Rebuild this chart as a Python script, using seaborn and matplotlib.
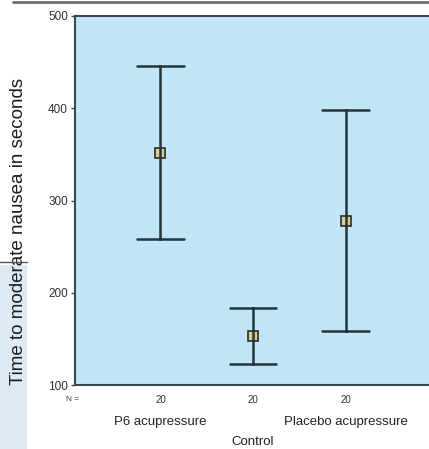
import matplotlib
matplotlib.use("Agg")
import matplotlib.pyplot as plt
from matplotlib.lines import Line2D
from matplotlib.patches import Rectangle
import seaborn as sns
import pandas as pd

groups = ["P6 acupressure", "Control", "Placebo acupressure"]
means = [352, 153, 278]
lower = [258, 123, 159]
upper = [446, 183, 398]
n_counts = ["20", "20", "20"]
y_ticks = [100, 200, 300, 400, 500]

rows = []
for g, lo, m, hi in zip(groups, lower, means, upper):
    for v in (lo, m, hi):
        rows.append({"group": g, "value": v})
df = pd.DataFrame(rows)

sns.set_theme(style="white")
plt.rcParams["font.family"] = ["Liberation Sans", "DejaVu Sans"]

W, H = 429, 449
fig = plt.figure(figsize=(W / 100, H / 100), dpi=100)
fig.patch.set_facecolor("white")

# screenshot artifacts
fig.add_artist(Rectangle((0, 0), 27 / W, (H - 265) / H, transform=fig.transFigure,
                         facecolor="#dde9f3", edgecolor="none", zorder=0))
fig.add_artist(Line2D([0, 27 / W], [1 - 262 / H] * 2, transform=fig.transFigure,
                      color="#555555", lw=1))
fig.add_artist(Line2D([13 / W, 1], [1 - 1.5 / H] * 2, transform=fig.transFigure,
                      color="#6e6e6e", lw=2))

ax = fig.add_axes([75 / W, 1 - 385 / H, 356 / W, 369 / H])
ax.set_facecolor("#c2e6f7")

sns.pointplot(data=df, x="group", y="value", order=groups, estimator="median",
              errorbar=lambda x: (x.min(), x.max()), linestyle="none",
              marker="s", markersize=6.5, markeredgewidth=1.2,
              markerfacecolor="#d6d18a", markeredgecolor="#2b2b2b",
              color="#26343c", err_kws={"linewidth": 1.8}, capsize=0.5, ax=ax)

ax.set_xlim(-0.924, 2.924)
ax.set_ylim(100, 500)
ax.set_yticks(y_ticks)
ax.set_xticks(range(len(groups)))
ax.set_xticklabels(n_counts)
ax.set_xlabel("")
ax.set_ylabel("Time to moderate nausea in seconds", fontsize=13.5, color="#1e1e1e")
ax.yaxis.set_label_coords(-0.136, 0.417)

for s in ("left", "bottom", "top"):
    ax.spines[s].set_color("#3a4850")
    ax.spines[s].set_linewidth(1.5)
ax.spines["right"].set_visible(False)

ax.tick_params(axis="y", direction="out", length=3, width=1, color="#444444",
               labelsize=8.5, labelcolor="#333333", pad=2, left=True)
ax.tick_params(axis="x", direction="out", length=0, width=0.8, color="#666666",
               labelsize=7, labelcolor="#333333", pad=7, bottom=True)

ax.text(-0.006, -0.04, "N =", transform=ax.transAxes, fontsize=6,
        color="#333333", ha="center", va="center")
label_rows = [-0.1003, -0.1545, -0.1003]
for i, (g, yr) in enumerate(zip(groups, label_rows)):
    ax.text(i, yr, g, transform=ax.get_xaxis_transform(), fontsize=9.5,
            color="#222222", ha="center", va="center")

fig.savefig("out.png", dpi=100)
